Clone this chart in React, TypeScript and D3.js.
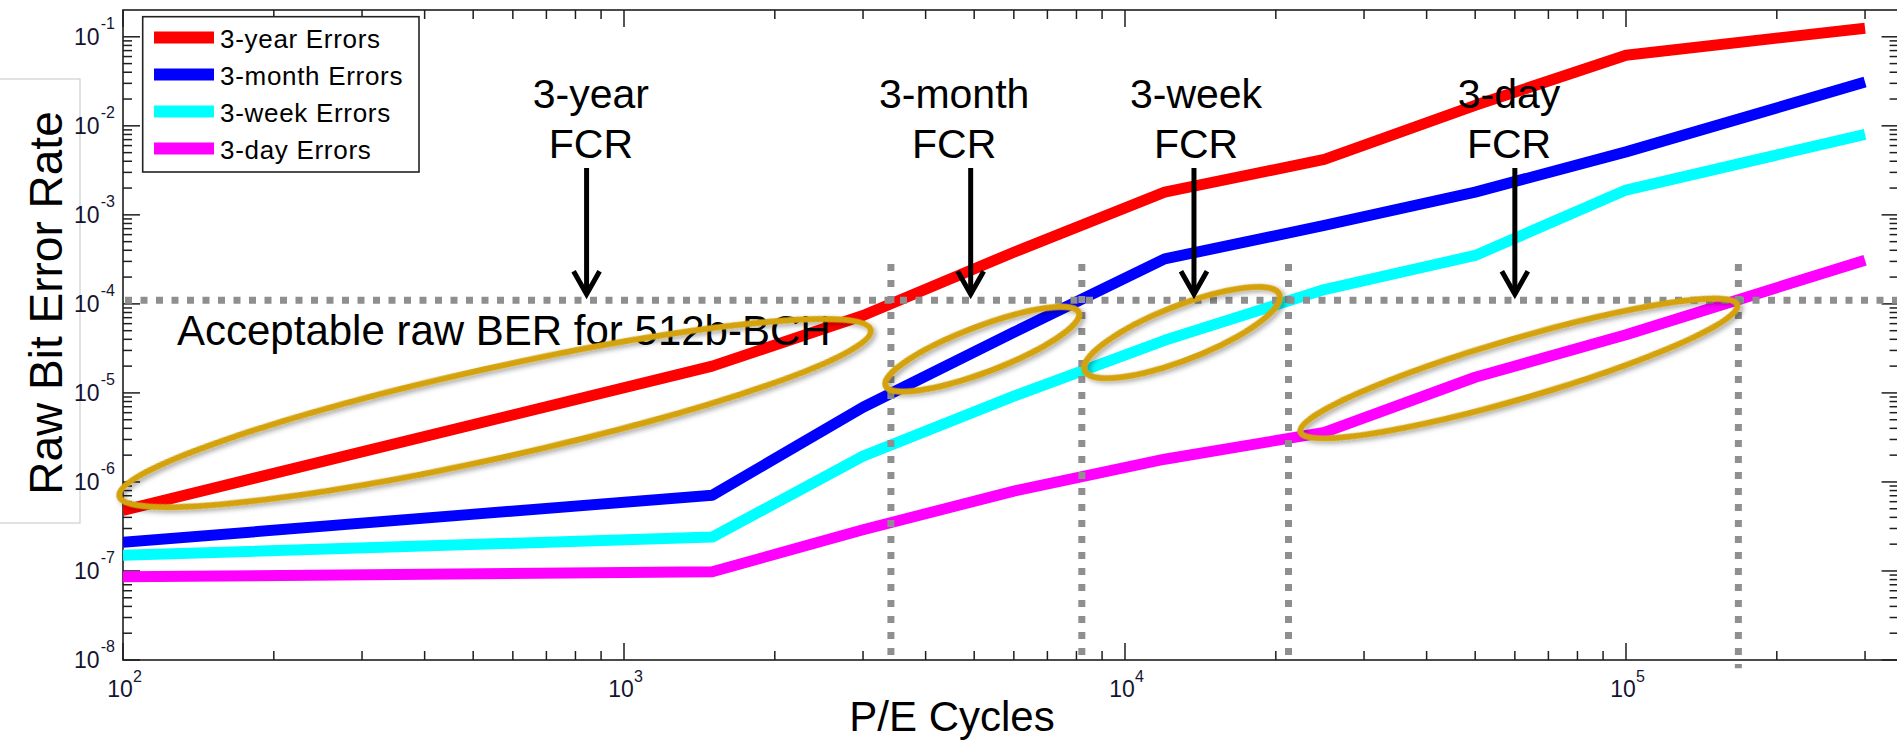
import React, { useEffect } from 'react';
import * as d3 from 'd3';

const W = 1897;
const H = 741;

// P/E cycles (x) shared by all series
const peCycles = [100, 1500, 3000, 6000, 12000, 25000, 50000, 100000, 300000];
// Raw bit error rates per retention age
const yearErrors = [4.8e-7, 2.0e-5, 7.4e-5, 3.8e-4, 1.8e-3, 4.2e-3, 1.7e-2, 6.2e-2, 1.25e-1];
const monthErrors = [2.1e-7, 7.1e-7, 6.9e-6, 4.8e-5, 3.2e-4, 7.6e-4, 1.8e-3, 5.1e-3, 3.1e-2];
const weekErrors = [1.5e-7, 2.4e-7, 1.95e-6, 9.2e-6, 3.9e-5, 1.45e-4, 3.5e-4, 1.9e-3, 8.0e-3];
const dayErrors = [8.6e-8, 9.8e-8, 2.9e-7, 7.9e-7, 1.8e-6, 3.6e-6, 1.5e-5, 4.5e-5, 3.1e-4];

const seriesNames = ['3-year Errors', '3-month Errors', '3-week Errors', '3-day Errors'];
const seriesColors = ['#ff0000', '#0000ff', '#00ffff', '#ff00ff'];
const seriesValues = [yearErrors, monthErrors, weekErrors, dayErrors];

const xTickExps = [2, 3, 4, 5];
const yTickExps = [-8, -7, -6, -5, -4, -3, -2, -1];

const threshold = 1.1e-4;
const thresholdLabel = 'Acceptable raw BER for 512b-BCH';
const crossingCycles = [3410, 8200, 21200, 167600];
const crossingBottom = [1.14e-8, 1.14e-8, 1.14e-8, 8.1e-9];
const crossingTop = 2.8e-4;

const fcrNames = ['3-year', '3-month', '3-week', '3-day'];
const fcrArrowCycles = [842, 4920, 13730, 60000];
const fcrLabelCycles = [859, 4560, 13860, 58410];

// ellipses: [x1, y1, x2, y2] outer endpoints in data units
const ellipseEnds: [number, number, number, number][] = [
  [97, 6.8e-7, 3150, 5.2e-5],
  [3284, 1.17e-5, 8196, 8.2e-5],
  [8200, 1.73e-5, 20600, 1.31e-4],
  [22100, 3.55e-6, 169000, 9.97e-5],
];
const ellipseHalfWidth = [45, 23, 27, 30];

const FONT = '"Liberation Sans", Arial, Helvetica, sans-serif';

export default function App() {
  useEffect(() => {
    document.body.style.margin = '0';
  }, []);

  const x0 = 123;
  const decade = 501;
  const xs = d3.scaleLog().domain([100, 3.5e5]).range([x0, x0 + decade * Math.log10(3500)]);
  const ys = d3.scaleLog().domain([1e-8, 0.2]).range([660, 10]);
  const left = xs.range()[0];
  const right = xs.range()[1];
  const top = ys.range()[1];
  const bottom = ys.range()[0];

  const line = d3
    .line<[number, number]>()
    .x((d) => xs(d[0]))
    .y((d) => ys(d[1]));

  const xMajor = xTickExps.map((e) => Math.pow(10, e));
  const xMinor: number[] = [];
  for (let e = 2; e <= 5; e++) {
    for (let k = 2; k <= 9; k++) {
      const v = k * Math.pow(10, e);
      if (v <= 3.5e5) xMinor.push(v);
    }
  }
  const yMajor = yTickExps.map((e) => Math.pow(10, e));
  const yMinor: number[] = [];
  for (let e = -8; e <= -1; e++) {
    for (let k = 2; k <= 9; k++) {
      const v = k * Math.pow(10, e);
      if (v < 0.2) yMinor.push(v);
    }
  }
  const MAJ = 17;
  const MIN = 9;
  const axisColor = '#1e1e1e';
  const labelColor = '#141432';
  const gold = '#d4a20b';
  const dotColor = '#8f8f8f';

  const thrY = ys(threshold);

  return (
    <svg
      width={W}
      height={H}
      viewBox={`0 0 ${W} ${H}`}
      style={{ display: 'block', position: 'absolute', left: 0, top: 0, background: '#fff' }}
      fontFamily={FONT}
    >
      <defs>
        <filter id="shadow" x="-20%" y="-60%" width="140%" height="220%">
          <feDropShadow dx="2" dy="3" stdDeviation="2.5" floodColor="#000" floodOpacity="0.35" />
        </filter>
        <clipPath id="plotclip">
          <rect x={left} y={top} width={right - left} height={bottom - top} />
        </clipPath>
      </defs>
      <rect x={0} y={0} width={W} height={H} fill="#fff" />

      {/* y label box */}
      <rect x={-1} y={79} width={81} height={444} fill="#fff" stroke="#cfcfcf" strokeWidth={1.2} />
      <text
        transform={`translate(62, 303) rotate(-90)`}
        textAnchor="middle"
        fontSize={46}
        fill="#000"
      >
        Raw Bit Error Rate
      </text>

      {/* axes box */}
      <rect x={left} y={top} width={right - left} height={bottom - top} fill="none" stroke={axisColor} strokeWidth={1.6} />

      {/* x ticks */}
      {xMajor.map((v) => (
        <g key={'xM' + v}>
          <line x1={xs(v)} x2={xs(v)} y1={bottom} y2={bottom - MAJ} stroke={axisColor} strokeWidth={1.5} />
          <line x1={xs(v)} x2={xs(v)} y1={top} y2={top + MAJ} stroke={axisColor} strokeWidth={1.5} />
        </g>
      ))}
      {xMinor.map((v) => (
        <g key={'xm' + v}>
          <line x1={xs(v)} x2={xs(v)} y1={bottom} y2={bottom - MIN} stroke={axisColor} strokeWidth={1.5} />
          <line x1={xs(v)} x2={xs(v)} y1={top} y2={top + MIN} stroke={axisColor} strokeWidth={1.5} />
        </g>
      ))}
      {/* y ticks */}
      {yMajor.map((v) => (
        <g key={'yM' + v}>
          <line x1={left} x2={left + MAJ} y1={ys(v)} y2={ys(v)} stroke={axisColor} strokeWidth={1.5} />
          <line x1={right} x2={right - MAJ} y1={ys(v)} y2={ys(v)} stroke={axisColor} strokeWidth={1.5} />
        </g>
      ))}
      {yMinor.map((v) => (
        <g key={'ym' + v}>
          <line x1={left} x2={left + MIN} y1={ys(v)} y2={ys(v)} stroke={axisColor} strokeWidth={1.5} />
          <line x1={right} x2={right - MIN} y1={ys(v)} y2={ys(v)} stroke={axisColor} strokeWidth={1.5} />
        </g>
      ))}

      {/* x tick labels */}
      {xTickExps.map((e) => {
        const px = xs(Math.pow(10, e));
        return (
          <g key={'xl' + e} fill={labelColor}>
            <text x={px - 3} y={697} textAnchor="middle" fontSize={23}>
              10
            </text>
            <text x={px + 10} y={682} textAnchor="start" fontSize={16}>
              {e}
            </text>
          </g>
        );
      })}
      {/* y tick labels */}
      {yTickExps.map((e) => {
        const py = ys(Math.pow(10, e));
        return (
          <g key={'yl' + e} fill={labelColor}>
            <text x={99.5} y={py + 8.3} textAnchor="end" fontSize={23}>
              10
            </text>
            <text x={115} y={py - 8} textAnchor="end" fontSize={16}>
              {e}
            </text>
          </g>
        );
      })}

      {/* axis title */}
      <text x={952} y={731} textAnchor="middle" fontSize={42} fill="#000">
        P/E Cycles
      </text>

      {/* data lines */}
      <g clipPath="url(#plotclip)">
        {seriesValues.map((vals, i) => (
          <path
            key={seriesNames[i]}
            d={line(peCycles.map((c, j) => [c, vals[j]] as [number, number])) || ''}
            fill="none"
            stroke={seriesColors[i]}
            strokeWidth={11}
            strokeLinejoin="round"
            strokeLinecap="butt"
          />
        ))}
      </g>

      {/* threshold dotted lines */}
      <line
        x1={left + 2}
        x2={W}
        y1={thrY}
        y2={thrY}
        stroke={dotColor}
        strokeWidth={7}
        strokeDasharray="7 8.5"
      />
      {crossingCycles.map((c, i) => (
        <line
          key={'cv' + c}
          x1={xs(c)}
          x2={xs(c)}
          y1={ys(crossingTop)}
          y2={ys(crossingBottom[i])}
          stroke={dotColor}
          strokeWidth={7}
          strokeDasharray="7 9"
        />
      ))}

      {/* threshold label */}
      <text x={177} y={345} fontSize={42} fill="#000">
        {thresholdLabel}
      </text>

      {/* ellipses */}
      {ellipseEnds.map((e, i) => {
        const ax = xs(e[0]);
        const ay = ys(e[1]);
        const bx = xs(e[2]);
        const by = ys(e[3]);
        const cx = (ax + bx) / 2;
        const cy = (ay + by) / 2;
        const len = Math.hypot(bx - ax, by - ay) / 2 - 3;
        const ang = (Math.atan2(by - ay, bx - ax) * 180) / Math.PI;
        return (
          <ellipse
            key={'el' + i}
            cx={0}
            cy={0}
            rx={len}
            ry={ellipseHalfWidth[i]}
            transform={`translate(${cx},${cy}) rotate(${ang})`}
            fill="none"
            stroke={gold}
            strokeWidth={6}
            filter="url(#shadow)"
          />
        );
      })}

      {/* FCR annotations */}
      {fcrNames.map((n, i) => {
        const ax = xs(fcrArrowCycles[i]);
        const lx = xs(fcrLabelCycles[i]);
        const tipY = thrY - 6;
        return (
          <g key={'fcr' + n}>
            <text x={lx} y={108} textAnchor="middle" fontSize={41} fill="#000">
              {n}
            </text>
            <text x={lx} y={158} textAnchor="middle" fontSize={41} fill="#000">
              FCR
            </text>
            <line x1={ax} x2={ax} y1={168} y2={tipY} stroke="#000" strokeWidth={5} />
            <polyline
              points={`${ax - 13},${tipY - 23} ${ax},${tipY} ${ax + 13},${tipY - 23}`}
              fill="none"
              stroke="#000"
              strokeWidth={5}
              strokeLinejoin="miter"
            />
          </g>
        );
      })}

      {/* legend */}
      <rect x={142.7} y={16.7} width={276.3} height={155.3} fill="#fff" stroke="#222" strokeWidth={1.6} />
      {seriesNames.map((n, i) => {
        const ry = 37.4 + i * 37;
        return (
          <g key={'lg' + n}>
            <line x1={154} x2={214} y1={ry} y2={ry} stroke={seriesColors[i]} strokeWidth={12} />
            <text x={220} y={ry + 11} fontSize={26} letterSpacing={0.7} fill="#000">
              {n}
            </text>
          </g>
        );
      })}
    </svg>
  );
}
